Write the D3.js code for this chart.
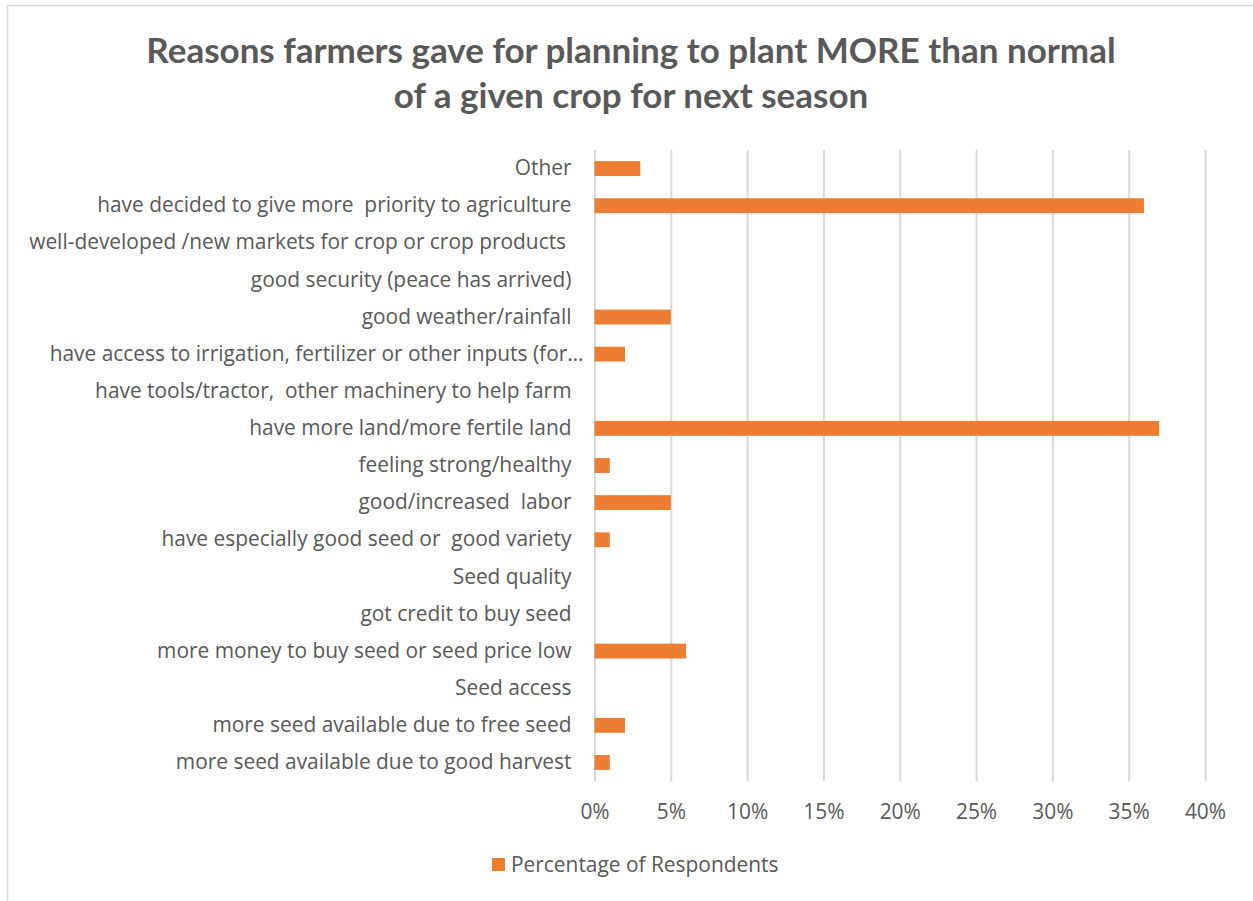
<!DOCTYPE html>
<html>
<head>
<meta charset="utf-8">
<script src="https://cdn.jsdelivr.net/npm/d3@7"></script>
<style>
  html, body { margin: 0; padding: 0; background: #fff; }
  svg { display: block; }
  text { font-family: "Open Sans", Lato, sans-serif; fill: #595959; white-space: pre; }
</style>
</head>
<body>
<svg id="chart" width="1253" height="901"></svg>
<script>
const titleLines = [
  "Reasons farmers gave for planning to plant MORE than normal",
  "of a given crop for next season"
];
const categories = [
  "Other",
  "have decided to give more  priority to agriculture",
  "well-developed /new markets for crop or crop products ",
  "good security (peace has arrived)",
  "good weather/rainfall",
  "have access to irrigation, fertilizer or other inputs (for\u2026",
  "have tools/tractor,  other machinery to help farm",
  "have more land/more fertile land",
  "feeling strong/healthy",
  "good/increased  labor",
  "have especially good seed or  good variety",
  "Seed quality",
  "got credit to buy seed",
  "more money to buy seed or seed price low",
  "Seed access",
  "more seed available due to free seed",
  "more seed available due to good harvest"
];
const values = [0.03, 0.36, 0, 0, 0.05, 0.02, 0, 0.37, 0.01, 0.05, 0.01, null, 0, 0.06, null, 0.02, 0.01];
const tickValues = [0, 0.05, 0.10, 0.15, 0.20, 0.25, 0.30, 0.35, 0.40];
const seriesName = "Percentage of Respondents";

const data = categories.map((c, i) => ({ cat: c, val: values[i] }));

const svg = d3.select("#chart");
const W = 1253, H = 901;
const barColor = "#ED7D31";
const gridColor = "#d9d9d9";
const labelFont = "'Open Sans', Lato, sans-serif";
const labelSize = "20.9px";

// chart area border
svg.append("rect")
  .attr("x", 7.5).attr("y", 5.5)
  .attr("width", W + 10).attr("height", H + 10)
  .attr("fill", "#fff")
  .attr("stroke", gridColor).attr("stroke-width", 1.5);

// title
svg.append("g").selectAll("text")
  .data(titleLines)
  .join("text")
  .attr("x", 631)
  .attr("y", (d, i) => 63 + i * 45)
  .attr("text-anchor", "middle")
  .attr("font-weight", "bold")
  .attr("font-size", "35px")
  .style("font-family", "Lato, 'Open Sans', sans-serif")
  .text(d => d);

const x = d3.scaleLinear().domain([0, 0.4]).range([594.5, 1205]);
const y = d3.scaleBand().domain(categories).range([150, 781])
  .paddingInner(0.6).paddingOuter(0.3);

// gridlines
const grid = svg.append("g").attr("transform", "translate(0,150)")
  .call(d3.axisBottom(x).tickValues(tickValues).tickSize(631).tickFormat(""));
grid.select(".domain").remove();
grid.selectAll(".tick line").attr("stroke", gridColor).attr("stroke-width", 2);

// x axis labels
const xAxis = svg.append("g").attr("transform", "translate(0,781)")
  .call(d3.axisBottom(x).tickValues(tickValues).tickSize(0).tickPadding(23)
    .tickFormat(d3.format(".0%")));
xAxis.select(".domain").remove();
xAxis.selectAll("text").attr("font-size", labelSize).attr("fill", "#595959")
  .style("font-family", labelFont);

// bars
svg.append("g").selectAll("rect")
  .data(data.filter(d => d.val))
  .join("rect")
  .attr("x", x(0))
  .attr("y", d => y(d.cat))
  .attr("width", d => x(d.val) - x(0))
  .attr("height", y.bandwidth())
  .attr("fill", barColor);

// y axis labels
const yAxis = svg.append("g").attr("transform", `translate(${x(0)},0)`)
  .call(d3.axisLeft(y).tickSize(0).tickPadding(23));
yAxis.select(".domain").remove();
yAxis.selectAll("text").attr("font-size", labelSize).attr("fill", "#595959")
  .style("font-family", labelFont)
  .style("white-space", "pre")
  .filter(d => d.endsWith("\u2026"))
  .attr("x", -11);

// legend
const lg = svg.append("g").attr("transform", "translate(492,858)");
lg.append("rect").attr("width", 13).attr("height", 13).attr("fill", barColor);
lg.append("text").attr("x", 19).attr("y", 7).attr("dy", "0.35em")
  .attr("font-size", labelSize).text(seriesName);
</script>
</body>
</html>
